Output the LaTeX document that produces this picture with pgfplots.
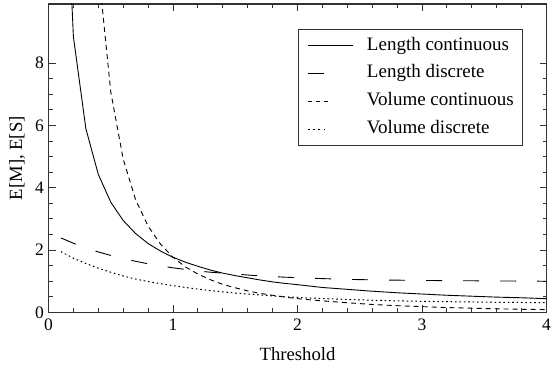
\documentclass[border=0pt]{standalone}
\usepackage{pgfplots}
\pgfplotsset{compat=1.18}
\usepackage{pgfplotstable}
\usepackage{fontspec}
\setmainfont{Liberation Serif}

% Expected number of events above a threshold
\pgfplotstableread{
t     lc      ld
0.1   17.70   2.39
0.2   8.85    2.22
0.3   5.90    2.07
0.4   4.43    1.94
0.5   3.54    1.83
0.6   2.95    1.72
0.7   2.53    1.64
0.8   2.21    1.56
0.9   1.97    1.49
1.0   1.77    1.43
1.1   1.61    1.38
1.2   1.48    1.33
1.3   1.36    1.29
1.4   1.26    1.26
1.5   1.18    1.23
1.6   1.11    1.20
1.7   1.04    1.17
1.8   0.98    1.15
1.9   0.93    1.13
2.0   0.89    1.115
2.2   0.80    1.085
2.4   0.74    1.06
2.6   0.68    1.045
2.8   0.63    1.035
3.0   0.59    1.025
3.2   0.55    1.02
3.4   0.52    1.015
3.6   0.49    1.01
3.8   0.47    1.005
4.0   0.44    1.00
}\lengthdata

\pgfplotstableread{
t     vc      vd
0.1   177.0   1.95
0.2   44.25   1.74
0.3   19.67   1.57
0.4   11.06   1.42
0.5   7.08    1.29
0.6   4.92    1.17
0.7   3.61    1.07
0.8   2.77    0.99
0.9   2.19    0.92
1.0   1.77    0.86
1.1   1.46    0.80
1.2   1.23    0.75
1.3   1.05    0.70
1.4   0.90    0.66
1.5   0.79    0.62
1.6   0.69    0.59
1.7   0.61    0.56
1.8   0.55    0.53
1.9   0.49    0.50
2.0   0.44    0.48
2.2   0.37    0.445
2.4   0.31    0.415
2.6   0.255   0.39
2.8   0.215   0.37
3.0   0.185   0.355
3.2   0.155   0.345
3.4   0.135   0.335
3.6   0.115   0.325
3.8   0.10    0.318
4.0   0.09    0.31
}\volumedata

\pgfplotsset{
  lcstyle/.style={black, line width=0.9pt},
  ldstyle/.style={black, line width=0.9pt, dash pattern=on 16pt off 21pt},
  vcstyle/.style={black, line width=0.9pt, dash pattern=on 5pt off 4pt},
  vdstyle/.style={black, line width=1pt, dash pattern=on 1.6pt off 2.8pt},
}

\begin{document}
\begin{tikzpicture}
\begin{axis}[
  scale only axis,
  width=498pt, height=308.4pt,
  xmin=0, xmax=4, ymin=0, ymax=9.9,
  xtick={0,1,2,3,4}, ytick={0,2,4,6,8},
  minor x tick num=4, minor y tick num=3,
  tick align=inside, tick pos=both,
  major tick length=7pt, minor tick length=4pt,
  every tick/.style={black!80, line width=1pt},
  axis line style={black!80, line width=1.2pt},
  /pgf/number format/assume math mode=true,
  tick label style={font=\fontsize{17.5}{20}\selectfont},
  xticklabel style={yshift=-3pt},
  yticklabel style={xshift=-1pt},
  xlabel={Threshold},
  ylabel={E[M], E[S]},
  every axis x label/.style={at={(axis description cs:0.5,-0.136)}, anchor=center,
    font=\fontsize{18.7}{22}\selectfont},
  every axis y label/.style={at={(axis description cs:-0.0633,0.5)}, anchor=center, rotate=90,
    font=\fontsize{18.7}{22}\selectfont},
  legend style={
    at={(axis description cs:0.501,0.919)}, anchor=north west,
    draw=black!80, line width=0.9pt, fill=white,
    font=\fontsize{19}{22}\selectfont,
    inner xsep=9pt, inner ysep=6pt,
    row sep=7.4pt, column sep=13.5pt,
    cells={anchor=west},
    nodes={inner sep=0pt, text height=14.7pt, text depth=5.7pt},
  },
]
\addplot[lcstyle, legend image code/.code={\draw[black, line width=0.9pt] (0pt,0pt) -- (45pt,0pt);}]
  table[x=t, y=lc] {\lengthdata};
\addlegendentry{Length continuous}
\addplot[ldstyle, legend image code/.code={\draw[black, line width=0.9pt] (0pt,0pt) -- (17pt,0pt); \path (45pt,0pt);}]
  table[x=t, y=ld] {\lengthdata};
\addlegendentry{Length discrete}
\addplot[vcstyle, legend image code/.code={\draw[black, line width=0.9pt, dash pattern=on 4pt off 4pt] (0pt,0pt) -- (20pt,0pt); \path (45pt,0pt);}]
  table[x=t, y=vc] {\volumedata};
\addlegendentry{Volume continuous}
\addplot[vdstyle, legend image code/.code={\draw[black, line width=1pt, dash pattern=on 1.6pt off 3.6pt] (0pt,0pt) -- (20pt,0pt); \path (45pt,0pt);}]
  table[x=t, y=vd] {\volumedata};
\addlegendentry{Volume discrete}
\end{axis}
\pgfresetboundingbox
\path[use as bounding box]
  ([shift={(-48.5pt,-58.6pt)}]current axis.south west)
  rectangle ([shift={(6.5pt,4pt)}]current axis.north east);
\end{tikzpicture}
\end{document}
